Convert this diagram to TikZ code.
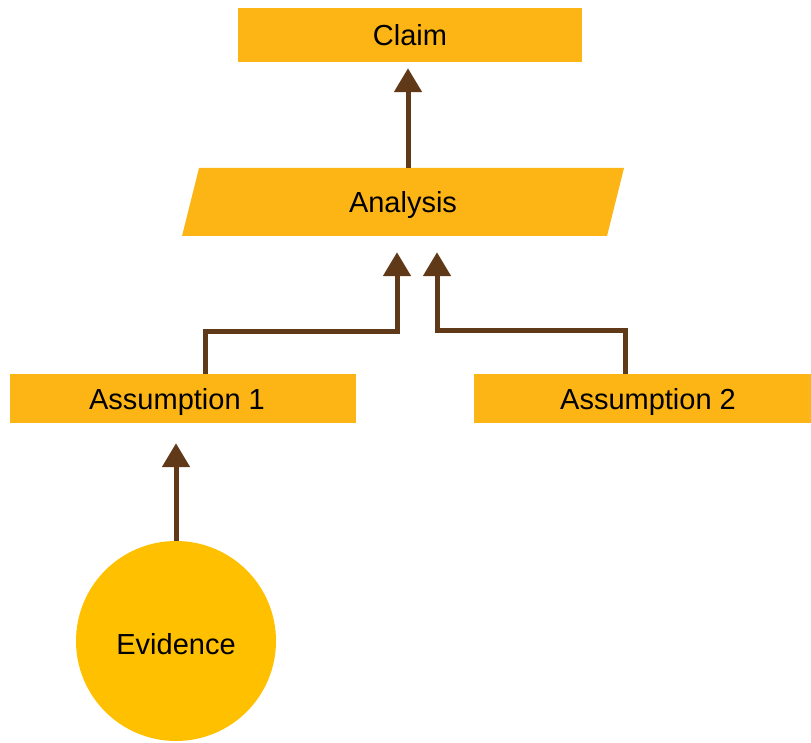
\documentclass[tikz,border=0pt]{standalone}
\usepackage{fontspec}
\setmainfont{Liberation Sans}
\usetikzlibrary{arrows.meta}
\definecolor{boxgold}{RGB}{253,181,21}
\definecolor{circgold}{RGB}{255,192,0}
\definecolor{arrbrown}{RGB}{96,57,24}
\tikzset{
  lbl/.style={font=\fontsize{29}{33}\selectfont, text height=21pt, text depth=0pt},
  box/.style={lbl, fill=boxgold, inner sep=0pt},
  conn/.style={draw=arrbrown, line width=5pt, -{Triangle[width=27pt,length=24pt]}},
}
\begin{document}
\begin{tikzpicture}[x=1pt,y=-1pt]
\useasboundingbox (0,0) rectangle (811,743);
% Claim
\node[box, minimum width=344pt, minimum height=54pt] (claim) at (410,35) {Claim};
% Analysis parallelogram
\fill[boxgold] (199,168) -- (624,168) -- (607,236) -- (182,236) -- cycle;
\node[lbl, inner sep=0pt, minimum width=425pt, minimum height=68pt] (analysis) at (403,202) {Analysis};
% Assumptions
\node[box, minimum width=346pt, minimum height=49pt] (a1) at (183,398.5) {Assumption 1\hspace*{12pt}};
\node[box, minimum width=337pt, minimum height=49pt] (a2) at (642.5,398.5) {\hspace*{11pt}Assumption 2};
% Evidence
\node[lbl, circle, fill=circgold, minimum size=200pt, inner sep=0pt] (ev) at (176,641) {\raisebox{-3pt}{Evidence}};
% connectors
\draw[conn, shorten >=6pt] ([xshift=5pt]analysis.north) -- ([xshift=5pt]analysis.north |- claim.south);
\draw[conn, shorten >=16pt] ([xshift=22pt]a1.north) |- (397,331) -- ([xshift=-6pt]analysis.south);
\draw[conn, shorten >=16pt] ([xshift=-17.5pt]a2.north) |- (437,330) -- ([xshift=34pt]analysis.south);
\draw[conn, shorten >=20pt] (ev.north) -- (ev.north |- a1.south);
\end{tikzpicture}
\end{document}
